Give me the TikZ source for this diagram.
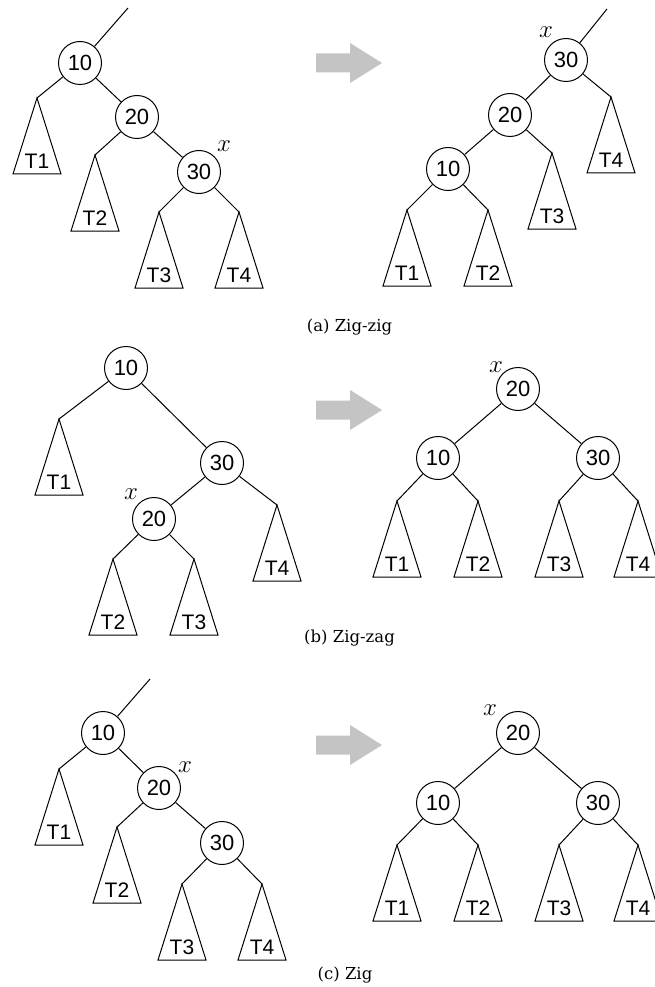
\documentclass[tikz,border=0pt]{standalone}
\usepackage{fontspec}
\newfontfamily\labelsans{Liberation Sans}
\newfontfamily\captionserif{DejaVu Serif}
\definecolor{arrowgray}{RGB}{196,196,196}

\tikzset{
  key/.style={circle, draw, line width=1pt, minimum size=43pt, inner sep=0pt,
    font=\labelsans\fontsize{22}{26}\selectfont},
  link/.style={line width=1pt},
  subtri/.style={draw, line width=1pt, line join=miter},
  sublabel/.style={inner sep=0pt, font=\labelsans\fontsize{21}{25}\selectfont},
  marker/.style={inner sep=0pt, font=\fontsize{27}{31}\selectfont},
  caption/.style={inner sep=0pt, font=\captionserif\fontsize{16.5}{20}\selectfont},
  shiftarrow/.style={fill=arrowgray, draw=none},
}

% subtree: name, apex, label
\newcommand\subtree[3]{%
  \coordinate (#1) at (#2);
  \draw[subtri] (#1) -- ++(-24,76) -- ++(48,0) -- cycle;
  \path (#1) ++(0,63) node[sublabel] (#1-txt) {#3};
}
% block arrow centred vertically at #1
\newcommand\rotarrow[1]{%
  \fill[shiftarrow] (316,{#1-9.5}) -- (350,{#1-9.5}) -- (350,{#1-20})
    -- (382,#1) -- (350,{#1+20}) -- (350,{#1+9.5}) -- (316,{#1+9.5}) -- cycle;
}

\begin{document}
\begin{tikzpicture}[x=1pt,y=-1pt]
\useasboundingbox (0,0) rectangle (655,987);

% ---------------- (a) zig-zig ----------------
\coordinate (a-up) at (128,8);
\node[key] (a10) at (80,63) {10};
\node[key] (a20) at (137,117) {20};
\node[key] (a30) at (199,172) {30};
\node[marker] (a-x) at (224,146) {$x$};
\subtree{a-t1}{37,98}{T1}
\subtree{a-t2}{95,155}{T2}
\subtree{a-t3}{159,212}{T3}
\subtree{a-t4}{239,212}{T4}
\draw[link] (a10) -- (a-up);
\draw[link] (a10) -- (a20);
\draw[link] (a20) -- (a30);
\draw[link] (a10) -- (a-t1);
\draw[link] (a20) -- (a-t2);
\draw[link] (a30) -- (a-t3);
\draw[link] (a30) -- (a-t4);

\rotarrow{63}

\coordinate (ar-up) at (607,9);
\node[key] (ar30) at (566,60) {30};
\node[key] (ar20) at (510,115) {20};
\node[key] (ar10) at (448,169) {10};
\node[marker] (ar-x) at (546,32) {$x$};
\subtree{ar-t1}{407,210}{T1}
\subtree{ar-t2}{488,210}{T2}
\subtree{ar-t3}{552,153}{T3}
\subtree{ar-t4}{611,97}{T4}
\draw[link] (ar30) -- (ar-up);
\draw[link] (ar30) -- (ar20);
\draw[link] (ar20) -- (ar10);
\draw[link] (ar10) -- (ar-t1);
\draw[link] (ar10) -- (ar-t2);
\draw[link] (ar20) -- (ar-t3);
\draw[link] (ar30) -- (ar-t4);

\node[caption] (cap-a) at (349.5,327) {(a) Zig-zig};

% ---------------- (b) zig-zag ----------------
\node[key] (b10) at (126,368) {10};
\node[key] (b30) at (222,463) {30};
\node[key] (b20) at (154,519) {20};
\node[marker] (b-x) at (131,494) {$x$};
\subtree{b-t1}{59,419}{T1}
\subtree{b-t2}{113,559}{T2}
\subtree{b-t3}{194,559}{T3}
\subtree{b-t4}{277,505}{T4}
\draw[link] (b10) -- (b30);
\draw[link] (b30) -- (b20);
\draw[link] (b10) -- (b-t1);
\draw[link] (b20) -- (b-t2);
\draw[link] (b20) -- (b-t3);
\draw[link] (b30) -- (b-t4);

\rotarrow{410}

\node[key] (br20) at (518,389) {20};
\node[key] (br10) at (438,458) {10};
\node[key] (br30) at (598,458) {30};
\node[marker] (br-x) at (496,367) {$x$};
\subtree{br-t1}{397,501}{T1}
\subtree{br-t2}{478,501}{T2}
\subtree{br-t3}{559,501}{T3}
\subtree{br-t4}{638,501}{T4}
\draw[link] (br20) -- (br10);
\draw[link] (br20) -- (br30);
\draw[link] (br10) -- (br-t1);
\draw[link] (br10) -- (br-t2);
\draw[link] (br30) -- (br-t3);
\draw[link] (br30) -- (br-t4);

\node[caption] (cap-b) at (349.5,638) {(b) Zig-zag};

% ---------------- (c) zig ----------------
\coordinate (c-up) at (150,679);
\node[key] (c10) at (103,733) {10};
\node[key] (c20) at (159,788) {20};
\node[key] (c30) at (222,843) {30};
\node[marker] (c-x) at (185,767) {$x$};
\subtree{c-t1}{59,769}{T1}
\subtree{c-t2}{117,827}{T2}
\subtree{c-t3}{182,884}{T3}
\subtree{c-t4}{262,884}{T4}
\draw[link] (c10) -- (c-up);
\draw[link] (c10) -- (c20);
\draw[link] (c20) -- (c30);
\draw[link] (c10) -- (c-t1);
\draw[link] (c20) -- (c-t2);
\draw[link] (c30) -- (c-t3);
\draw[link] (c30) -- (c-t4);

\rotarrow{745}

\node[key] (cr20) at (518,733) {20};
\node[key] (cr10) at (438,803) {10};
\node[key] (cr30) at (598,803) {30};
\node[marker] (cr-x) at (490,710) {$x$};
\subtree{cr-t1}{397,845}{T1}
\subtree{cr-t2}{478,845}{T2}
\subtree{cr-t3}{559,845}{T3}
\subtree{cr-t4}{638,845}{T4}
\draw[link] (cr20) -- (cr10);
\draw[link] (cr20) -- (cr30);
\draw[link] (cr10) -- (cr-t1);
\draw[link] (cr10) -- (cr-t2);
\draw[link] (cr30) -- (cr-t3);
\draw[link] (cr30) -- (cr-t4);

\node[caption] (cap-c) at (345,975) {(c) Zig};
\end{tikzpicture}
\end{document}
